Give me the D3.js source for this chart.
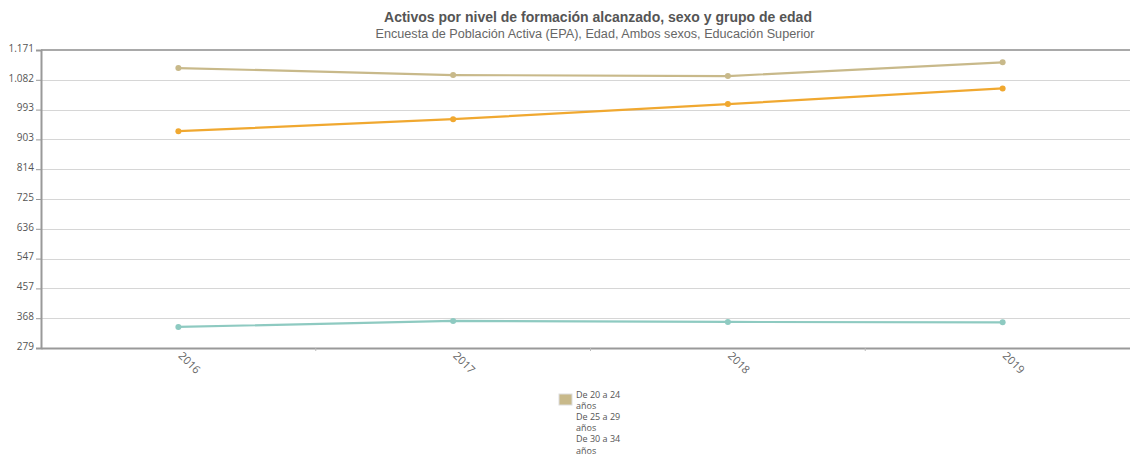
<!DOCTYPE html>
<html>
<head>
<meta charset="utf-8">
<script src="https://cdn.jsdelivr.net/npm/d3@7"></script>
<style>
body { margin: 0; background: #fff; font-family: "Liberation Sans", Arial, sans-serif; }
</style>
</head>
<body>
<div id="chart"></div>
<script>
const years = ["2016", "2017", "2018", "2019"];
const seriesNames = ["De 20 a 24 años", "De 25 a 29 años", "De 30 a 34 años"];
const age20_24 = [1117, 1096, 1093, 1134];
const age25_29 = [928, 964, 1009, 1056];
const age30_34 = [342, 360, 357, 356];
const yTicks = [279, 368.2, 457.4, 546.6, 635.8, 725, 814.2, 903.4, 992.6, 1081.8, 1171];
const colors = ["#c8b98a", "#f0a830", "#8ecac1"];

const series = [age20_24, age25_29, age30_34];
const width = 1130, height = 458;
const margin = {top: 50, left: 41, bottom: 110};

let svg = d3.select("#chart").append("svg").attr("width", width).attr("height", height);

let x = d3.scaleBand().domain(years).range([margin.left, 1140]);
let y = d3.scaleLinear().domain([279, 1171]).range([height - margin.bottom, margin.top]);

const es = d3.formatLocale({decimal: ",", thousands: ".", grouping: [3], currency: ["", "€"]});
const fmt = es.format(",.0f");

// titulo
svg.append("text").attr("x", 598).attr("y", 22).attr("text-anchor", "middle")
    .attr("font-size", "14px").attr("font-weight", "bold").attr("fill", "#555")
    .text("Activos por nivel de formación alcanzado, sexo y grupo de edad");
svg.append("text").attr("x", 595).attr("y", 38).attr("text-anchor", "middle")
    .attr("font-size", "12.65px").attr("fill", "#666")
    .text("Encuesta de Población Activa (EPA), Edad, Ambos sexos, Educación Superior");

// grid
svg.append("g").selectAll("line").data(yTicks).join("line")
    .attr("x1", margin.left).attr("x2", width)
    .attr("y1", d => Math.round(y(d)) + 0.5).attr("y2", d => Math.round(y(d)) + 0.5)
    .attr("stroke", "#d6d6d6").attr("stroke-width", 1);

// top border
svg.append("line").attr("x1", margin.left).attr("x2", width)
    .attr("y1", y(1171)).attr("y2", y(1171))
    .attr("stroke", "#a9a9a9").attr("stroke-width", 2);

// y axis
let yAxis = svg.append("g").attr("transform", `translate(${margin.left},0)`)
    .call(d3.axisLeft(y).tickValues(yTicks).tickFormat(fmt).tickSize(5).tickPadding(2));
yAxis.select(".domain").attr("stroke", "#999").attr("stroke-width", 2);
yAxis.selectAll(".tick line").attr("stroke", "#999");
yAxis.selectAll("text").attr("fill", "#555").attr("font-size", "10px")
    .attr("font-family", "'Open Sans', sans-serif").attr("dy", "0.12em");

// x axis
let xAxis = svg.append("g").attr("transform", `translate(0,${y(279)})`)
    .call(d3.axisBottom(x).tickSize(0).tickPadding(8));
xAxis.select(".domain").attr("stroke", "#999").attr("stroke-width", 2);
xAxis.selectAll("text").attr("fill", "#666").attr("font-size", "11px")
    .attr("font-family", "'Open Sans', sans-serif")
    .attr("text-anchor", "start").attr("y", 0).attr("dy", "0.2em")
    .attr("transform", "translate(1,7) rotate(45)");

// marcas menores entre categorias
svg.append("g").selectAll("line").data(years.slice(1)).join("line")
    .attr("x1", d => x(d)).attr("x2", d => x(d))
    .attr("y1", y(279)).attr("y2", y(279) + 3)
    .attr("stroke", "#bbb");

// lineas
let line = d3.line().x((d, i) => x(years[i]) + x.bandwidth() / 2).y(d => y(d));
series.forEach(function (s, k) {
    svg.append("path").datum(s).attr("d", line).attr("fill", "none")
        .attr("stroke", colors[k]).attr("stroke-width", 2.2);
    svg.append("g").selectAll("circle").data(s).join("circle")
        .attr("cx", (d, i) => x(years[i]) + x.bandwidth() / 2)
        .attr("cy", d => y(d)).attr("r", 3).attr("fill", colors[k]);
});

// leyenda
let leg = svg.append("g").attr("transform", "translate(559,394)");
leg.append("rect").attr("x", 0).attr("y", 0).attr("width", 13).attr("height", 11)
    .attr("fill", colors[0]).attr("stroke", "#ddd");
seriesNames.forEach(function (n, k) {
    let parts = [n.replace(" años", ""), "años"];
    parts.forEach(function (p, j) {
        leg.append("text").attr("x", 17).attr("y", 3.5 + (k * 2 + j) * 11.2)
            .attr("font-size", "9px").attr("fill", "#555")
            .attr("font-family", "'Open Sans', sans-serif").text(p);
    });
});
</script>
</body>
</html>
